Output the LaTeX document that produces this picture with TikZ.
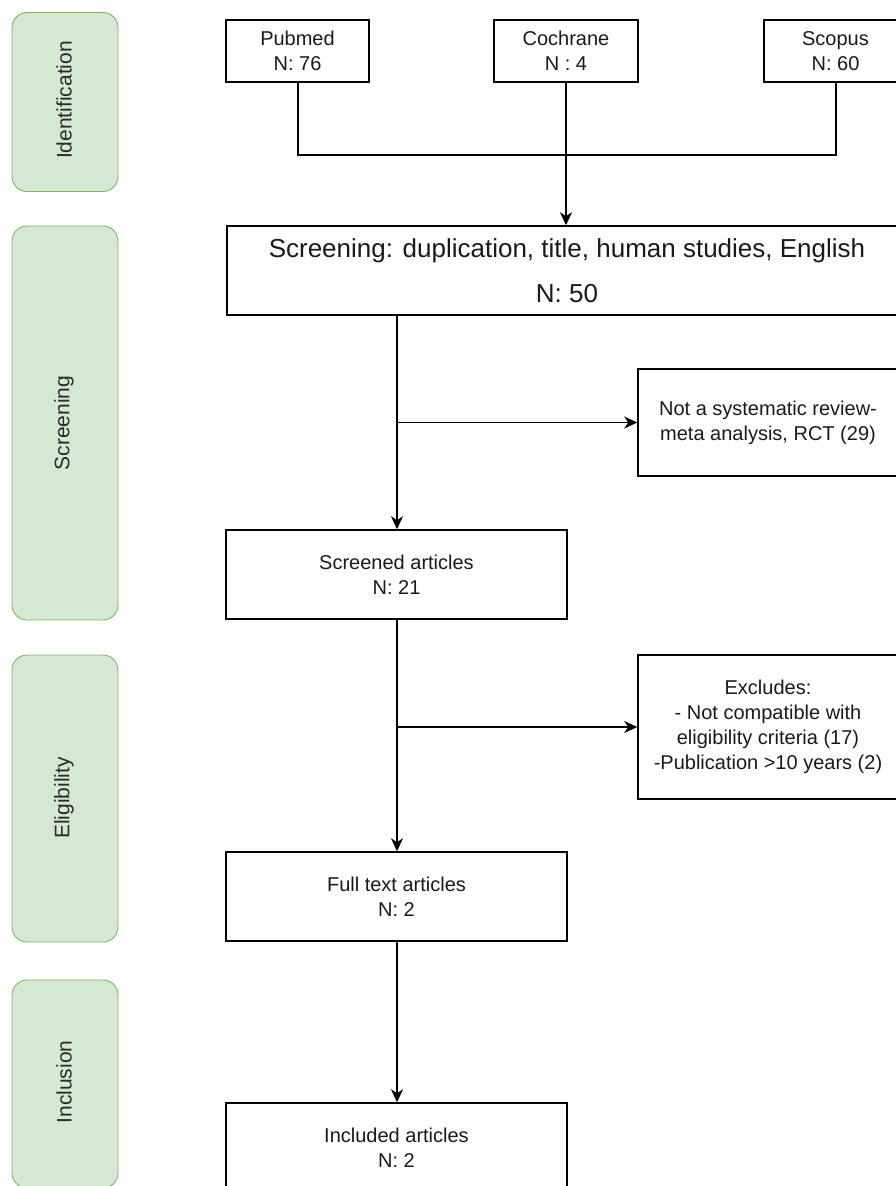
\documentclass[tikz,border=0pt]{standalone}
\usepackage{fontspec}
\setmainfont{Liberation Sans}
\usetikzlibrary{arrows.meta}
\definecolor{lanefill}{HTML}{D5E8D4}
\definecolor{laneline}{HTML}{82B366}
\definecolor{lanetxt}{HTML}{2A2A2A}
\definecolor{boxtxt}{HTML}{1A1A1A}
\begin{document}
\begin{tikzpicture}[x=1pt,y=-1pt,
  box/.style={draw=black, line width=1.5pt, fill=white, align=center, inner sep=0pt,
    font=\fontsize{20}{25}\selectfont, text=boxtxt},
  lane/.style={draw=laneline, fill=lanefill, rounded corners=15pt, line width=0.9pt,
    inner sep=0pt, minimum width=106pt},
  lanetext/.style={rotate=90, font=\fontsize{21}{25}\selectfont, text=lanetxt},
  conn/.style={line width=1.6pt},
  arr/.style={conn, -{Stealth[length=13pt,width=12pt,inset=4pt]}}
]
\useasboundingbox (0,0) rectangle (896,1186);
\clip (0,0) rectangle (896,1186);

% lanes
\node[lane, minimum height=179pt] (laneid) at (65,102) {};
\node[lanetext] (laneidt) at (64,100) {Identification};
\node[lane, minimum height=394pt] (lanesc) at (65,423) {};
\node[lanetext] (lanesct) at (64,423) {Screening};
\node[lane, minimum height=287pt] (laneel) at (65,798.5) {};
\node[lanetext] (laneelt) at (64,798) {Eligibility};
\node[lane, minimum height=208pt] (lanein) at (65,1084) {};
\node[lanetext] (laneint) at (64,1082) {Inclusion};

% boxes
\node[box, minimum width=143pt, minimum height=62pt] (pubmed) at (297.5,51) {Pubmed\\N: 76};
\node[box, minimum width=144pt, minimum height=62pt] (cochrane) at (566,51) {Cochrane\\N : 4};
\node[box, minimum width=143pt, minimum height=62pt] (scopus) at (835.5,51) {Scopus\\N: 60};

\node[box, minimum width=680pt, minimum height=89pt, font=\fontsize{26}{45}\selectfont] (screen) at (567,270.5)
  {Screening: duplication, title, human studies, English\\N: 50};

\node[box, minimum width=260pt, minimum height=107pt] (notsr) at (768,422.5)
  {Not a systematic review-\\meta analysis, RCT (29)};

\node[box, minimum width=341pt, minimum height=89pt] (screened) at (396.5,574.5)
  {Screened articles\\N: 21};

\node[box, minimum width=260pt, minimum height=144pt] (excl) at (768,727)
  {Excludes:\\- Not compatible with\\eligibility criteria (17)\\-Publication >10 years (2)};

\node[box, minimum width=341pt, minimum height=89pt] (fulltext) at (396.5,896.5)
  {Full text articles\\N: 2};

\node[box, minimum width=341pt, minimum height=89pt] (included) at (396.5,1147.5)
  {Included articles\\N: 2};

% connectors
\coordinate (mleft) at (298,155);
\coordinate (mright) at (836,155);
\draw[conn] (pubmed.south -| mleft) -- (mleft) -- (mright) -- (scopus.south -| mright);
\draw[arr] (cochrane.south) -- (cochrane.south |- screen.north);

\coordinate (s1) at (397,315);
\draw[arr] (screen.south -| s1) -- (screened.north -| s1);
\coordinate (b1) at (397,422.5);
\draw[arr] (b1) -- (notsr.west);

\draw[arr] (screened.south -| s1) -- (fulltext.north -| s1);
\coordinate (b2) at (397,727);
\draw[arr] (b2) -- (excl.west);

\draw[arr] (fulltext.south -| s1) -- (included.north -| s1);
\end{tikzpicture}
\end{document}
